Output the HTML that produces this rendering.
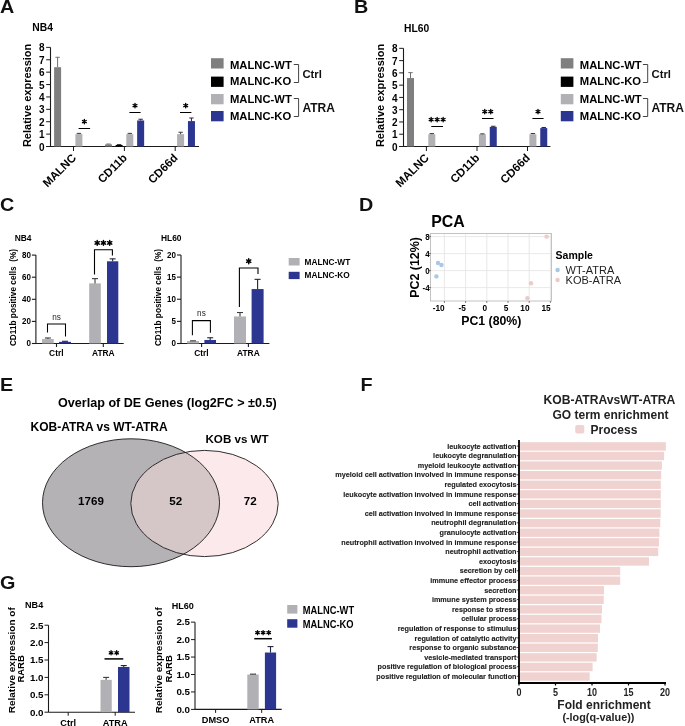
<!DOCTYPE html>
<html><head><meta charset="utf-8"><style>
html,body{margin:0;padding:0;background:#fff;width:685px;height:726px;overflow:hidden}
svg{display:block;font-family:"Liberation Sans",sans-serif;will-change:transform}
</style></head><body>
<svg width="685" height="726" viewBox="0 0 685 726">
<text transform="translate(0.00,13.10) scale(1.13,1)" font-size="17.5" text-anchor="start" font-weight="bold" fill="#111" >A</text>
<text transform="translate(354.00,13.10) scale(1.13,1)" font-size="17.5" text-anchor="start" font-weight="bold" fill="#111" >B</text>
<text transform="translate(0.00,211.00) scale(1.13,1)" font-size="17.5" text-anchor="start" font-weight="bold" fill="#111" >C</text>
<text transform="translate(359.00,211.10) scale(1.13,1)" font-size="17.5" text-anchor="start" font-weight="bold" fill="#111" >D</text>
<text transform="translate(0.00,390.80) scale(1.13,1)" font-size="17.5" text-anchor="start" font-weight="bold" fill="#111" >E</text>
<text transform="translate(360.60,390.80) scale(1.13,1)" font-size="17.5" text-anchor="start" font-weight="bold" fill="#111" >F</text>
<text transform="translate(0.10,589.10) scale(1.13,1)" font-size="17.5" text-anchor="start" font-weight="bold" fill="#111" >G</text>
<text transform="translate(32.30,30.80)" font-size="10.3" text-anchor="start" font-weight="bold" fill="#000" >NB4</text>
<line x1="50.50" y1="47.38" x2="50.50" y2="146.50" stroke="#1a1a1a" stroke-width="1.1" />
<line x1="46.20" y1="146.50" x2="50.50" y2="146.50" stroke="#1a1a1a" stroke-width="1.0" />
<text transform="translate(44.60,150.60)" font-size="10" text-anchor="end" font-weight="bold" fill="#000" >0</text>
<line x1="46.20" y1="134.11" x2="50.50" y2="134.11" stroke="#1a1a1a" stroke-width="1.0" />
<text transform="translate(44.60,138.21)" font-size="10" text-anchor="end" font-weight="bold" fill="#000" >1</text>
<line x1="46.20" y1="121.72" x2="50.50" y2="121.72" stroke="#1a1a1a" stroke-width="1.0" />
<text transform="translate(44.60,125.82)" font-size="10" text-anchor="end" font-weight="bold" fill="#000" >2</text>
<line x1="46.20" y1="109.33" x2="50.50" y2="109.33" stroke="#1a1a1a" stroke-width="1.0" />
<text transform="translate(44.60,113.43)" font-size="10" text-anchor="end" font-weight="bold" fill="#000" >3</text>
<line x1="46.20" y1="96.94" x2="50.50" y2="96.94" stroke="#1a1a1a" stroke-width="1.0" />
<text transform="translate(44.60,101.04)" font-size="10" text-anchor="end" font-weight="bold" fill="#000" >4</text>
<line x1="46.20" y1="84.55" x2="50.50" y2="84.55" stroke="#1a1a1a" stroke-width="1.0" />
<text transform="translate(44.60,88.65)" font-size="10" text-anchor="end" font-weight="bold" fill="#000" >5</text>
<line x1="46.20" y1="72.16" x2="50.50" y2="72.16" stroke="#1a1a1a" stroke-width="1.0" />
<text transform="translate(44.60,76.26)" font-size="10" text-anchor="end" font-weight="bold" fill="#000" >6</text>
<line x1="46.20" y1="59.77" x2="50.50" y2="59.77" stroke="#1a1a1a" stroke-width="1.0" />
<text transform="translate(44.60,63.87)" font-size="10" text-anchor="end" font-weight="bold" fill="#000" >7</text>
<line x1="46.20" y1="47.38" x2="50.50" y2="47.38" stroke="#1a1a1a" stroke-width="1.0" />
<text transform="translate(44.60,51.48)" font-size="10" text-anchor="end" font-weight="bold" fill="#000" >8</text>
<line x1="46.20" y1="146.50" x2="199.00" y2="146.50" stroke="#1a1a1a" stroke-width="1.1" />
<line x1="73.50" y1="146.50" x2="73.50" y2="151.00" stroke="#1a1a1a" stroke-width="1.0" />
<rect x="54.10" y="67.20" width="7.00" height="79.30" fill="#7f7f7f" />
<line x1="57.60" y1="57.29" x2="57.60" y2="67.20" stroke="#707070" stroke-width="1" />
<line x1="55.40" y1="57.29" x2="59.80" y2="57.29" stroke="#707070" stroke-width="1" />
<rect x="75.40" y="134.11" width="7.00" height="12.39" fill="#b1b1b5" />
<line x1="78.90" y1="133.37" x2="78.90" y2="134.11" stroke="#3c3c3c" stroke-width="1" />
<line x1="76.70" y1="133.37" x2="81.10" y2="133.37" stroke="#3c3c3c" stroke-width="1" />
<line x1="124.40" y1="146.50" x2="124.40" y2="151.00" stroke="#1a1a1a" stroke-width="1.0" />
<rect x="105.00" y="144.39" width="7.00" height="2.11" fill="#7f7f7f" />
<line x1="108.50" y1="144.02" x2="108.50" y2="144.39" stroke="#707070" stroke-width="1" />
<line x1="106.30" y1="144.02" x2="110.70" y2="144.02" stroke="#707070" stroke-width="1" />
<rect x="115.60" y="145.01" width="7.00" height="1.49" fill="#000" />
<line x1="119.10" y1="144.77" x2="119.10" y2="145.01" stroke="#000" stroke-width="1" />
<line x1="116.90" y1="144.77" x2="121.30" y2="144.77" stroke="#000" stroke-width="1" />
<rect x="126.30" y="134.11" width="7.00" height="12.39" fill="#b1b1b5" />
<line x1="129.80" y1="133.37" x2="129.80" y2="134.11" stroke="#3c3c3c" stroke-width="1" />
<line x1="127.60" y1="133.37" x2="132.00" y2="133.37" stroke="#3c3c3c" stroke-width="1" />
<rect x="137.15" y="120.48" width="7.00" height="26.02" fill="#2c3590" />
<line x1="140.65" y1="119.24" x2="140.65" y2="120.48" stroke="#22243a" stroke-width="1" />
<line x1="138.45" y1="119.24" x2="142.85" y2="119.24" stroke="#22243a" stroke-width="1" />
<line x1="175.20" y1="146.50" x2="175.20" y2="151.00" stroke="#1a1a1a" stroke-width="1.0" />
<rect x="177.10" y="134.11" width="7.00" height="12.39" fill="#b1b1b5" />
<line x1="180.60" y1="132.25" x2="180.60" y2="134.11" stroke="#3c3c3c" stroke-width="1" />
<line x1="178.40" y1="132.25" x2="182.80" y2="132.25" stroke="#3c3c3c" stroke-width="1" />
<rect x="187.95" y="121.10" width="7.00" height="25.40" fill="#2c3590" />
<line x1="191.45" y1="118.00" x2="191.45" y2="121.10" stroke="#22243a" stroke-width="1" />
<line x1="189.25" y1="118.00" x2="193.65" y2="118.00" stroke="#22243a" stroke-width="1" />
<text transform="translate(76.80,158.50) rotate(-45)" font-size="11.5" text-anchor="end" font-weight="bold" fill="#000" >MALNC</text>
<text transform="translate(127.70,158.50) rotate(-45)" font-size="11.5" text-anchor="end" font-weight="bold" fill="#000" >CD11b</text>
<text transform="translate(178.50,158.50) rotate(-45)" font-size="11.5" text-anchor="end" font-weight="bold" fill="#000" >CD66d</text>
<line x1="78.60" y1="128.50" x2="90.10" y2="128.50" stroke="#000" stroke-width="1.0" />
<path d="M84.35,119.40L84.35,123.80M82.44,120.50L86.26,122.70M86.26,120.50L82.44,122.70" stroke="#000" stroke-width="1.35" stroke-linecap="round" fill="none"/>
<line x1="129.40" y1="112.50" x2="140.60" y2="112.50" stroke="#000" stroke-width="1.0" />
<path d="M135.00,103.40L135.00,107.80M133.09,104.50L136.91,106.70M136.91,104.50L133.09,106.70" stroke="#000" stroke-width="1.35" stroke-linecap="round" fill="none"/>
<line x1="180.00" y1="112.50" x2="191.40" y2="112.50" stroke="#000" stroke-width="1.0" />
<path d="M185.70,103.40L185.70,107.80M183.79,104.50L187.61,106.70M187.61,104.50L183.79,106.70" stroke="#000" stroke-width="1.35" stroke-linecap="round" fill="none"/>
<rect x="211.00" y="58.20" width="12.60" height="10.30" fill="#7f7f7f" />
<text transform="translate(230.00,68.90)" font-size="11.25" text-anchor="start" font-weight="bold" fill="#000" >MALNC-WT</text>
<rect x="211.00" y="76.60" width="12.60" height="10.30" fill="#000" />
<text transform="translate(230.00,85.40)" font-size="11.25" text-anchor="start" font-weight="bold" fill="#000" >MALNC-KO</text>
<rect x="211.00" y="94.00" width="12.60" height="10.30" fill="#b1b1b5" />
<text transform="translate(230.00,103.20)" font-size="11.25" text-anchor="start" font-weight="bold" fill="#000" >MALNC-WT</text>
<rect x="211.00" y="111.00" width="12.60" height="10.30" fill="#2c3590" />
<text transform="translate(230.00,119.80)" font-size="11.25" text-anchor="start" font-weight="bold" fill="#000" >MALNC-KO</text>
<path d="M293.8,64.5 H298.6 V82.5 H293.8" stroke="#444" stroke-width="1" fill="none" />
<path d="M293.8,98.5 H298.6 V116.5 H293.8" stroke="#444" stroke-width="1" fill="none" />
<text transform="translate(302.40,78.20)" font-size="11.3" text-anchor="start" font-weight="bold" fill="#111" >Ctrl</text>
<text transform="translate(302.40,112.00)" font-size="12.0" text-anchor="start" font-weight="bold" fill="#111" >ATRA</text>
<text transform="translate(31.00,95.40) rotate(-90)" font-size="11" text-anchor="middle" font-weight="bold" fill="#000" >Relative expression</text>
<text transform="translate(404.00,32.00)" font-size="10.3" text-anchor="start" font-weight="bold" fill="#000" >HL60</text>
<line x1="403.50" y1="48.34" x2="403.50" y2="146.50" stroke="#1a1a1a" stroke-width="1.1" />
<line x1="399.20" y1="146.50" x2="403.50" y2="146.50" stroke="#1a1a1a" stroke-width="1.0" />
<text transform="translate(397.60,150.60)" font-size="10" text-anchor="end" font-weight="bold" fill="#000" >0</text>
<line x1="399.20" y1="134.23" x2="403.50" y2="134.23" stroke="#1a1a1a" stroke-width="1.0" />
<text transform="translate(397.60,138.33)" font-size="10" text-anchor="end" font-weight="bold" fill="#000" >1</text>
<line x1="399.20" y1="121.96" x2="403.50" y2="121.96" stroke="#1a1a1a" stroke-width="1.0" />
<text transform="translate(397.60,126.06)" font-size="10" text-anchor="end" font-weight="bold" fill="#000" >2</text>
<line x1="399.20" y1="109.69" x2="403.50" y2="109.69" stroke="#1a1a1a" stroke-width="1.0" />
<text transform="translate(397.60,113.79)" font-size="10" text-anchor="end" font-weight="bold" fill="#000" >3</text>
<line x1="399.20" y1="97.42" x2="403.50" y2="97.42" stroke="#1a1a1a" stroke-width="1.0" />
<text transform="translate(397.60,101.52)" font-size="10" text-anchor="end" font-weight="bold" fill="#000" >4</text>
<line x1="399.20" y1="85.15" x2="403.50" y2="85.15" stroke="#1a1a1a" stroke-width="1.0" />
<text transform="translate(397.60,89.25)" font-size="10" text-anchor="end" font-weight="bold" fill="#000" >5</text>
<line x1="399.20" y1="72.88" x2="403.50" y2="72.88" stroke="#1a1a1a" stroke-width="1.0" />
<text transform="translate(397.60,76.98)" font-size="10" text-anchor="end" font-weight="bold" fill="#000" >6</text>
<line x1="399.20" y1="60.61" x2="403.50" y2="60.61" stroke="#1a1a1a" stroke-width="1.0" />
<text transform="translate(397.60,64.71)" font-size="10" text-anchor="end" font-weight="bold" fill="#000" >7</text>
<line x1="399.20" y1="48.34" x2="403.50" y2="48.34" stroke="#1a1a1a" stroke-width="1.0" />
<text transform="translate(397.60,52.44)" font-size="10" text-anchor="end" font-weight="bold" fill="#000" >8</text>
<line x1="399.20" y1="146.50" x2="550.40" y2="146.50" stroke="#1a1a1a" stroke-width="1.1" />
<line x1="426.40" y1="146.50" x2="426.40" y2="151.00" stroke="#1a1a1a" stroke-width="1.0" />
<rect x="407.00" y="78.03" width="7.00" height="68.47" fill="#7f7f7f" />
<line x1="410.50" y1="72.63" x2="410.50" y2="78.03" stroke="#707070" stroke-width="1" />
<line x1="408.30" y1="72.63" x2="412.70" y2="72.63" stroke="#707070" stroke-width="1" />
<rect x="428.30" y="134.23" width="7.00" height="12.27" fill="#b1b1b5" />
<line x1="431.80" y1="133.62" x2="431.80" y2="134.23" stroke="#3c3c3c" stroke-width="1" />
<line x1="429.60" y1="133.62" x2="434.00" y2="133.62" stroke="#3c3c3c" stroke-width="1" />
<line x1="477.00" y1="146.50" x2="477.00" y2="151.00" stroke="#1a1a1a" stroke-width="1.0" />
<rect x="478.90" y="134.23" width="7.00" height="12.27" fill="#b1b1b5" />
<line x1="482.40" y1="133.86" x2="482.40" y2="134.23" stroke="#3c3c3c" stroke-width="1" />
<line x1="480.20" y1="133.86" x2="484.60" y2="133.86" stroke="#3c3c3c" stroke-width="1" />
<rect x="489.75" y="126.87" width="7.00" height="19.63" fill="#2c3590" />
<line x1="493.25" y1="126.25" x2="493.25" y2="126.87" stroke="#22243a" stroke-width="1" />
<line x1="491.05" y1="126.25" x2="495.45" y2="126.25" stroke="#22243a" stroke-width="1" />
<line x1="527.50" y1="146.50" x2="527.50" y2="151.00" stroke="#1a1a1a" stroke-width="1.0" />
<rect x="529.40" y="134.23" width="7.00" height="12.27" fill="#b1b1b5" />
<line x1="532.90" y1="133.49" x2="532.90" y2="134.23" stroke="#3c3c3c" stroke-width="1" />
<line x1="530.70" y1="133.49" x2="535.10" y2="133.49" stroke="#3c3c3c" stroke-width="1" />
<rect x="540.25" y="128.09" width="7.00" height="18.41" fill="#2c3590" />
<line x1="543.75" y1="127.48" x2="543.75" y2="128.09" stroke="#22243a" stroke-width="1" />
<line x1="541.55" y1="127.48" x2="545.95" y2="127.48" stroke="#22243a" stroke-width="1" />
<text transform="translate(429.70,158.50) rotate(-45)" font-size="11.5" text-anchor="end" font-weight="bold" fill="#000" >MALNC</text>
<text transform="translate(480.30,158.50) rotate(-45)" font-size="11.5" text-anchor="end" font-weight="bold" fill="#000" >CD11b</text>
<text transform="translate(530.80,158.50) rotate(-45)" font-size="11.5" text-anchor="end" font-weight="bold" fill="#000" >CD66d</text>
<line x1="431.30" y1="126.50" x2="443.00" y2="126.50" stroke="#000" stroke-width="1.0" />
<path d="M431.15,117.40L431.15,121.80M429.24,118.50L433.06,120.70M433.06,118.50L429.24,120.70" stroke="#000" stroke-width="1.35" stroke-linecap="round" fill="none"/>
<path d="M437.15,117.40L437.15,121.80M435.24,118.50L439.06,120.70M439.06,118.50L435.24,120.70" stroke="#000" stroke-width="1.35" stroke-linecap="round" fill="none"/>
<path d="M443.15,117.40L443.15,121.80M441.24,118.50L445.06,120.70M445.06,118.50L441.24,120.70" stroke="#000" stroke-width="1.35" stroke-linecap="round" fill="none"/>
<line x1="482.00" y1="118.50" x2="493.50" y2="118.50" stroke="#000" stroke-width="1.0" />
<path d="M484.75,109.40L484.75,113.80M482.84,110.50L486.66,112.70M486.66,110.50L482.84,112.70" stroke="#000" stroke-width="1.35" stroke-linecap="round" fill="none"/>
<path d="M490.75,109.40L490.75,113.80M488.84,110.50L492.66,112.70M492.66,110.50L488.84,112.70" stroke="#000" stroke-width="1.35" stroke-linecap="round" fill="none"/>
<line x1="532.40" y1="118.50" x2="543.60" y2="118.50" stroke="#000" stroke-width="1.0" />
<path d="M538.00,109.40L538.00,113.80M536.09,110.50L539.91,112.70M539.91,110.50L536.09,112.70" stroke="#000" stroke-width="1.35" stroke-linecap="round" fill="none"/>
<rect x="560.80" y="58.20" width="12.60" height="10.30" fill="#7f7f7f" />
<text transform="translate(579.80,68.90)" font-size="11.25" text-anchor="start" font-weight="bold" fill="#000" >MALNC-WT</text>
<rect x="560.80" y="76.60" width="12.60" height="10.30" fill="#000" />
<text transform="translate(579.80,85.40)" font-size="11.25" text-anchor="start" font-weight="bold" fill="#000" >MALNC-KO</text>
<rect x="560.80" y="94.00" width="12.60" height="10.30" fill="#b1b1b5" />
<text transform="translate(579.80,103.20)" font-size="11.25" text-anchor="start" font-weight="bold" fill="#000" >MALNC-WT</text>
<rect x="560.80" y="111.00" width="12.60" height="10.30" fill="#2c3590" />
<text transform="translate(579.80,119.80)" font-size="11.25" text-anchor="start" font-weight="bold" fill="#000" >MALNC-KO</text>
<path d="M642.9,64.5 H647.6999999999999 V82.5 H642.9" stroke="#444" stroke-width="1" fill="none" />
<path d="M642.9,98.5 H647.6999999999999 V116.5 H642.9" stroke="#444" stroke-width="1" fill="none" />
<text transform="translate(651.50,78.20)" font-size="11.3" text-anchor="start" font-weight="bold" fill="#111" >Ctrl</text>
<text transform="translate(651.50,112.00)" font-size="12.0" text-anchor="start" font-weight="bold" fill="#111" >ATRA</text>
<text transform="translate(384.00,95.40) rotate(-90)" font-size="11" text-anchor="middle" font-weight="bold" fill="#000" >Relative expression</text>
<text transform="translate(14.70,241.00)" font-size="8.4" text-anchor="start" font-weight="bold" fill="#000" >NB4</text>
<line x1="35.90" y1="255.10" x2="35.90" y2="344.00" stroke="#1a1a1a" stroke-width="1.1" />
<line x1="31.90" y1="343.50" x2="35.90" y2="343.50" stroke="#1a1a1a" stroke-width="1.1" />
<text transform="translate(30.90,346.30) scale(1,1.18)" font-size="8" text-anchor="end" font-weight="bold" fill="#000" >0</text>
<line x1="31.90" y1="321.40" x2="35.90" y2="321.40" stroke="#1a1a1a" stroke-width="1.1" />
<text transform="translate(30.90,324.20) scale(1,1.18)" font-size="8" text-anchor="end" font-weight="bold" fill="#000" >20</text>
<line x1="31.90" y1="299.30" x2="35.90" y2="299.30" stroke="#1a1a1a" stroke-width="1.1" />
<text transform="translate(30.90,302.10) scale(1,1.18)" font-size="8" text-anchor="end" font-weight="bold" fill="#000" >40</text>
<line x1="31.90" y1="277.20" x2="35.90" y2="277.20" stroke="#1a1a1a" stroke-width="1.1" />
<text transform="translate(30.90,280.00) scale(1,1.18)" font-size="8" text-anchor="end" font-weight="bold" fill="#000" >60</text>
<line x1="31.90" y1="255.10" x2="35.90" y2="255.10" stroke="#1a1a1a" stroke-width="1.1" />
<text transform="translate(30.90,257.90) scale(1,1.18)" font-size="8" text-anchor="end" font-weight="bold" fill="#000" >80</text>
<line x1="35.90" y1="343.50" x2="123.70" y2="343.50" stroke="#1a1a1a" stroke-width="1.1" />
<line x1="56.50" y1="343.50" x2="56.50" y2="347.00" stroke="#1a1a1a" stroke-width="1.1" />
<line x1="103.30" y1="343.50" x2="103.30" y2="347.00" stroke="#1a1a1a" stroke-width="1.1" />
<rect x="42.00" y="339.08" width="11.75" height="4.42" fill="#b1b1b5" />
<line x1="47.88" y1="337.98" x2="47.88" y2="339.08" stroke="#3c3c3c" stroke-width="1.1" />
<line x1="44.88" y1="337.98" x2="50.88" y2="337.98" stroke="#3c3c3c" stroke-width="1.1" />
<rect x="59.00" y="341.84" width="12.00" height="1.66" fill="#2c3590" />
<line x1="65.00" y1="341.29" x2="65.00" y2="341.84" stroke="#22243a" stroke-width="1.1" />
<line x1="62.00" y1="341.29" x2="68.00" y2="341.29" stroke="#22243a" stroke-width="1.1" />
<rect x="89.20" y="283.39" width="11.60" height="60.11" fill="#b1b1b5" />
<line x1="95.00" y1="278.64" x2="95.00" y2="283.39" stroke="#3c3c3c" stroke-width="1.1" />
<line x1="92.00" y1="278.64" x2="98.00" y2="278.64" stroke="#3c3c3c" stroke-width="1.1" />
<rect x="107.00" y="261.29" width="11.30" height="82.21" fill="#2c3590" />
<line x1="112.65" y1="258.86" x2="112.65" y2="261.29" stroke="#22243a" stroke-width="1.1" />
<line x1="109.65" y1="258.86" x2="115.65" y2="258.86" stroke="#22243a" stroke-width="1.1" />
<path d="M47.5,332.5 V324 H65.5 V336.4" stroke="#000" stroke-width="1.05" fill="none" stroke-linejoin="miter"/>
<text transform="translate(56.50,319.80)" font-size="8.2" text-anchor="middle" font-weight="normal" fill="#222" >ns</text>
<path d="M94.5,274.4 V249.7 H112.4 V255.6" stroke="#000" stroke-width="1.1" fill="none" />
<path d="M97.20,240.45L97.20,245.35M95.08,241.67L99.32,244.12M99.32,241.67L95.08,244.12" stroke="#000" stroke-width="1.45" stroke-linecap="round" fill="none"/>
<path d="M103.45,240.45L103.45,245.35M101.33,241.67L105.57,244.12M105.57,241.67L101.33,244.12" stroke="#000" stroke-width="1.45" stroke-linecap="round" fill="none"/>
<path d="M109.70,240.45L109.70,245.35M107.58,241.67L111.82,244.12M111.82,241.67L107.58,244.12" stroke="#000" stroke-width="1.45" stroke-linecap="round" fill="none"/>
<text transform="translate(56.30,356.30) scale(1,1.08)" font-size="8.4" text-anchor="middle" font-weight="bold" fill="#000" >Ctrl</text>
<text transform="translate(103.30,356.30) scale(1,1.08)" font-size="8.4" text-anchor="middle" font-weight="bold" fill="#000" >ATRA</text>
<text transform="translate(15.90,297.50) rotate(-90)" font-size="8.25" text-anchor="middle" font-weight="bold" fill="#000" >CD11b positive cells  (%)</text>
<text transform="translate(161.00,241.00)" font-size="8.4" text-anchor="start" font-weight="bold" fill="#000" >HL60</text>
<line x1="181.00" y1="255.00" x2="181.00" y2="344.00" stroke="#1a1a1a" stroke-width="1.1" />
<line x1="177.00" y1="343.50" x2="181.00" y2="343.50" stroke="#1a1a1a" stroke-width="1.1" />
<text transform="translate(176.00,346.30) scale(1,1.18)" font-size="8" text-anchor="end" font-weight="bold" fill="#000" >0</text>
<line x1="177.00" y1="321.38" x2="181.00" y2="321.38" stroke="#1a1a1a" stroke-width="1.1" />
<text transform="translate(176.00,324.18) scale(1,1.18)" font-size="8" text-anchor="end" font-weight="bold" fill="#000" >5</text>
<line x1="177.00" y1="299.25" x2="181.00" y2="299.25" stroke="#1a1a1a" stroke-width="1.1" />
<text transform="translate(176.00,302.05) scale(1,1.18)" font-size="8" text-anchor="end" font-weight="bold" fill="#000" >10</text>
<line x1="177.00" y1="277.12" x2="181.00" y2="277.12" stroke="#1a1a1a" stroke-width="1.1" />
<text transform="translate(176.00,279.93) scale(1,1.18)" font-size="8" text-anchor="end" font-weight="bold" fill="#000" >15</text>
<line x1="177.00" y1="255.00" x2="181.00" y2="255.00" stroke="#1a1a1a" stroke-width="1.1" />
<text transform="translate(176.00,257.80) scale(1,1.18)" font-size="8" text-anchor="end" font-weight="bold" fill="#000" >20</text>
<line x1="181.00" y1="343.50" x2="269.40" y2="343.50" stroke="#1a1a1a" stroke-width="1.1" />
<line x1="201.60" y1="343.50" x2="201.60" y2="347.00" stroke="#1a1a1a" stroke-width="1.1" />
<line x1="248.40" y1="343.50" x2="248.40" y2="347.00" stroke="#1a1a1a" stroke-width="1.1" />
<rect x="187.00" y="341.07" width="12.00" height="2.43" fill="#b1b1b5" />
<line x1="193.00" y1="340.85" x2="193.00" y2="341.07" stroke="#3c3c3c" stroke-width="1.1" />
<line x1="190.00" y1="340.85" x2="196.00" y2="340.85" stroke="#3c3c3c" stroke-width="1.1" />
<rect x="204.40" y="339.96" width="11.60" height="3.54" fill="#2c3590" />
<line x1="210.20" y1="337.75" x2="210.20" y2="339.96" stroke="#22243a" stroke-width="1.1" />
<line x1="207.20" y1="337.75" x2="213.20" y2="337.75" stroke="#22243a" stroke-width="1.1" />
<rect x="234.00" y="316.51" width="12.00" height="26.99" fill="#b1b1b5" />
<line x1="240.00" y1="312.52" x2="240.00" y2="316.51" stroke="#3c3c3c" stroke-width="1.1" />
<line x1="237.00" y1="312.52" x2="243.00" y2="312.52" stroke="#3c3c3c" stroke-width="1.1" />
<rect x="251.60" y="289.07" width="12.00" height="54.43" fill="#2c3590" />
<line x1="257.60" y1="279.34" x2="257.60" y2="289.07" stroke="#22243a" stroke-width="1.1" />
<line x1="254.60" y1="279.34" x2="260.60" y2="279.34" stroke="#22243a" stroke-width="1.1" />
<path d="M192.4,335.3 V320.6 H210.4 V332.8" stroke="#000" stroke-width="1.05" fill="none" stroke-linejoin="miter"/>
<text transform="translate(201.40,316.40)" font-size="8.2" text-anchor="middle" font-weight="normal" fill="#222" >ns</text>
<path d="M239.4,307 V268 H258 V274" stroke="#000" stroke-width="1.1" fill="none" />
<path d="M248.70,258.75L248.70,263.65M246.58,259.97L250.82,262.43M250.82,259.97L246.58,262.43" stroke="#000" stroke-width="1.45" stroke-linecap="round" fill="none"/>
<text transform="translate(201.40,356.30) scale(1,1.08)" font-size="8.4" text-anchor="middle" font-weight="bold" fill="#000" >Ctrl</text>
<text transform="translate(248.40,356.30) scale(1,1.08)" font-size="8.4" text-anchor="middle" font-weight="bold" fill="#000" >ATRA</text>
<text transform="translate(161.00,297.50) rotate(-90)" font-size="8.25" text-anchor="middle" font-weight="bold" fill="#000" >CD11b positive cells  (%)</text>
<rect x="288.70" y="258.00" width="10.90" height="7.50" fill="#b1b1b5" />
<rect x="288.70" y="271.80" width="10.90" height="7.30" fill="#2c3590" />
<text transform="translate(304.60,264.80)" font-size="8.3" text-anchor="start" font-weight="bold" fill="#000" >MALNC-WT</text>
<text transform="translate(304.60,278.20)" font-size="8.3" text-anchor="start" font-weight="bold" fill="#000" >MALNC-KO</text>
<text transform="translate(431.20,226.50) scale(1,1.05)" font-size="15.9" text-anchor="start" font-weight="bold" fill="#000" >PCA</text>
<rect x="430.50" y="233.50" width="121.00" height="67.50" fill="#fff" stroke="#c2c2c2" stroke-width="1"/>
<line x1="444.40" y1="234.00" x2="444.40" y2="300.50" stroke="#e2e2e2" stroke-width="0.8" />
<line x1="465.60" y1="234.00" x2="465.60" y2="300.50" stroke="#e2e2e2" stroke-width="0.8" />
<line x1="486.80" y1="234.00" x2="486.80" y2="300.50" stroke="#e2e2e2" stroke-width="0.8" />
<line x1="508.00" y1="234.00" x2="508.00" y2="300.50" stroke="#e2e2e2" stroke-width="0.8" />
<line x1="529.20" y1="234.00" x2="529.20" y2="300.50" stroke="#e2e2e2" stroke-width="0.8" />
<line x1="550.40" y1="234.00" x2="550.40" y2="300.50" stroke="#e2e2e2" stroke-width="0.8" />
<line x1="431.00" y1="236.60" x2="551.00" y2="236.60" stroke="#e2e2e2" stroke-width="0.8" />
<line x1="431.00" y1="253.60" x2="551.00" y2="253.60" stroke="#e2e2e2" stroke-width="0.8" />
<line x1="431.00" y1="270.60" x2="551.00" y2="270.60" stroke="#e2e2e2" stroke-width="0.8" />
<line x1="431.00" y1="287.60" x2="551.00" y2="287.60" stroke="#e2e2e2" stroke-width="0.8" />
<line x1="428.50" y1="236.60" x2="431.00" y2="236.60" stroke="#333" stroke-width="0.6" />
<text transform="translate(429.60,239.70) scale(1,1.18)" font-size="8" text-anchor="end" font-weight="bold" fill="#000" >8</text>
<line x1="428.50" y1="253.60" x2="431.00" y2="253.60" stroke="#333" stroke-width="0.6" />
<text transform="translate(429.60,256.70) scale(1,1.18)" font-size="8" text-anchor="end" font-weight="bold" fill="#000" >4</text>
<line x1="428.50" y1="270.60" x2="431.00" y2="270.60" stroke="#333" stroke-width="0.6" />
<text transform="translate(429.60,273.70) scale(1,1.18)" font-size="8" text-anchor="end" font-weight="bold" fill="#000" >0</text>
<line x1="428.50" y1="287.60" x2="431.00" y2="287.60" stroke="#333" stroke-width="0.6" />
<text transform="translate(429.60,290.70) scale(1,1.18)" font-size="8" text-anchor="end" font-weight="bold" fill="#000" >-4</text>
<line x1="444.40" y1="301.00" x2="444.40" y2="303.00" stroke="#333" stroke-width="0.6" />
<text transform="translate(444.70,310.60) scale(1,1.18)" font-size="8.3" text-anchor="end" font-weight="bold" fill="#000" >-10</text>
<line x1="465.60" y1="301.00" x2="465.60" y2="303.00" stroke="#333" stroke-width="0.6" />
<text transform="translate(465.90,310.60) scale(1,1.18)" font-size="8.3" text-anchor="end" font-weight="bold" fill="#000" >-5</text>
<line x1="486.80" y1="301.00" x2="486.80" y2="303.00" stroke="#333" stroke-width="0.6" />
<text transform="translate(487.10,310.60) scale(1,1.18)" font-size="8.3" text-anchor="end" font-weight="bold" fill="#000" >0</text>
<line x1="508.00" y1="301.00" x2="508.00" y2="303.00" stroke="#333" stroke-width="0.6" />
<text transform="translate(508.30,310.60) scale(1,1.18)" font-size="8.3" text-anchor="end" font-weight="bold" fill="#000" >5</text>
<line x1="529.20" y1="301.00" x2="529.20" y2="303.00" stroke="#333" stroke-width="0.6" />
<text transform="translate(529.50,310.60) scale(1,1.18)" font-size="8.3" text-anchor="end" font-weight="bold" fill="#000" >10</text>
<line x1="550.40" y1="301.00" x2="550.40" y2="303.00" stroke="#333" stroke-width="0.6" />
<text transform="translate(550.70,310.60) scale(1,1.18)" font-size="8.3" text-anchor="end" font-weight="bold" fill="#000" >15</text>
<circle cx="438.00" cy="263.00" r="2.2" fill="#a9c8e4" />
<circle cx="441.40" cy="265.00" r="2.2" fill="#a9c8e4" />
<circle cx="436.40" cy="276.40" r="2.2" fill="#a9c8e4" />
<circle cx="546.60" cy="236.60" r="2.2" fill="#eccbc6" />
<circle cx="531.00" cy="283.20" r="2.2" fill="#eccbc6" />
<circle cx="527.40" cy="298.20" r="2.2" fill="#eccbc6" />
<text transform="translate(491.30,325.00)" font-size="12.3" text-anchor="middle" font-weight="bold" fill="#000" >PC1 (80%)</text>
<text transform="translate(419.30,267.50) rotate(-90)" font-size="12.4" text-anchor="middle" font-weight="bold" fill="#000" >PC2 (12%)</text>
<text transform="translate(555.60,259.00)" font-size="10.5" text-anchor="start" font-weight="bold" fill="#000" >Sample</text>
<circle cx="557.60" cy="270.00" r="2.2" fill="#a9c8e4" />
<circle cx="557.60" cy="280.00" r="2.2" fill="#eccbc6" />
<text transform="translate(565.60,273.60)" font-size="11" text-anchor="start" font-weight="normal" fill="#222" >WT-ATRA</text>
<text transform="translate(565.60,284.00)" font-size="11" text-anchor="start" font-weight="normal" fill="#222" >KOB-ATRA</text>
<text transform="translate(167.30,406.80)" font-size="12.6" text-anchor="middle" font-weight="bold" fill="#000" >Overlap of DE Genes (log2FC &gt; ±0.5)</text>
<text transform="translate(30.50,431.25)" font-size="12" text-anchor="start" font-weight="bold" fill="#000" >KOB-ATRA vs WT-ATRA</text>
<text transform="translate(205.50,442.70)" font-size="11.6" text-anchor="start" font-weight="bold" fill="#000" >KOB vs WT</text>
<defs><clipPath id="c1"><ellipse cx="131" cy="502.75" rx="88.5" ry="63.95"/></clipPath></defs>
<ellipse cx="131.00" cy="502.75" rx="88.5" ry="63.95" fill="#b4b2b4" stroke="none" stroke-width="0.8" />
<ellipse cx="204.50" cy="503.50" rx="73.7" ry="53.1" fill="#fbe9eb" stroke="none" stroke-width="0.8" />
<ellipse cx="204.50" cy="503.50" rx="73.7" ry="53.1" fill="#d5c6c8" stroke="none" stroke-width="0.8" clip-path="url(#c1)"/>
<ellipse cx="131.00" cy="502.75" rx="88.5" ry="63.95" fill="none" stroke="#1a1a1a" stroke-width="0.9" />
<ellipse cx="204.50" cy="503.50" rx="73.7" ry="53.1" fill="none" stroke="#1a1a1a" stroke-width="0.9" />
<text transform="translate(91.00,505.00)" font-size="11.6" text-anchor="middle" font-weight="bold" fill="#000" >1769</text>
<text transform="translate(175.70,505.00)" font-size="11.6" text-anchor="middle" font-weight="bold" fill="#000" >52</text>
<text transform="translate(250.20,505.00)" font-size="11.6" text-anchor="middle" font-weight="bold" fill="#000" >72</text>
<text transform="translate(609.40,404.00) scale(1,1.04)" font-size="12.15" text-anchor="middle" font-weight="bold" fill="#222" >KOB-ATRAvsWT-ATRA</text>
<text transform="translate(610.50,419.00)" font-size="12" text-anchor="middle" font-weight="bold" fill="#222" >GO term enrichment</text>
<rect x="575.20" y="425.00" width="9.10" height="8.40" fill="#f0d2d2" rx="2"/>
<text transform="translate(590.60,434.00)" font-size="12" text-anchor="start" font-weight="bold" fill="#222" >Process</text>
<rect x="520.00" y="442.20" width="145.90" height="8.40" fill="#f0d3d1" />
<line x1="516.80" y1="446.10" x2="519.00" y2="446.10" stroke="#222" stroke-width="0.8" />
<text transform="translate(516.50,448.70) scale(1,1.06)" font-size="7.26" text-anchor="end" font-weight="bold" fill="#222" stroke="#222" stroke-width="0.12">leukocyte activation</text>
<rect x="520.00" y="451.79" width="144.10" height="8.40" fill="#f0d3d1" />
<line x1="516.80" y1="455.69" x2="519.00" y2="455.69" stroke="#222" stroke-width="0.8" />
<text transform="translate(516.50,458.29) scale(1,1.06)" font-size="7.26" text-anchor="end" font-weight="bold" fill="#222" stroke="#222" stroke-width="0.12">leukocyte degranulation</text>
<rect x="520.00" y="461.38" width="141.90" height="8.40" fill="#f0d3d1" />
<line x1="516.80" y1="465.28" x2="519.00" y2="465.28" stroke="#222" stroke-width="0.8" />
<text transform="translate(516.50,467.88) scale(1,1.06)" font-size="7.26" text-anchor="end" font-weight="bold" fill="#222" stroke="#222" stroke-width="0.12">myeloid leukocyte activation</text>
<rect x="520.00" y="470.97" width="141.20" height="8.40" fill="#f0d3d1" />
<line x1="516.80" y1="474.87" x2="519.00" y2="474.87" stroke="#222" stroke-width="0.8" />
<text transform="translate(516.50,477.47) scale(1,1.06)" font-size="7.26" text-anchor="end" font-weight="bold" fill="#222" stroke="#222" stroke-width="0.12">myeloid cell activation involved in immune response</text>
<rect x="520.00" y="480.56" width="140.80" height="8.40" fill="#f0d3d1" />
<line x1="516.80" y1="484.46" x2="519.00" y2="484.46" stroke="#222" stroke-width="0.8" />
<text transform="translate(516.50,487.06) scale(1,1.06)" font-size="7.26" text-anchor="end" font-weight="bold" fill="#222" stroke="#222" stroke-width="0.12">regulated exocytosis</text>
<rect x="520.00" y="490.15" width="140.80" height="8.40" fill="#f0d3d1" />
<line x1="516.80" y1="494.05" x2="519.00" y2="494.05" stroke="#222" stroke-width="0.8" />
<text transform="translate(516.50,496.65) scale(1,1.06)" font-size="7.26" text-anchor="end" font-weight="bold" fill="#222" stroke="#222" stroke-width="0.12">leukocyte activation involved in immune response</text>
<rect x="520.00" y="499.74" width="140.80" height="8.40" fill="#f0d3d1" />
<line x1="516.80" y1="503.64" x2="519.00" y2="503.64" stroke="#222" stroke-width="0.8" />
<text transform="translate(516.50,506.24) scale(1,1.06)" font-size="7.26" text-anchor="end" font-weight="bold" fill="#222" stroke="#222" stroke-width="0.12">cell activation</text>
<rect x="520.00" y="509.33" width="140.70" height="8.40" fill="#f0d3d1" />
<line x1="516.80" y1="513.23" x2="519.00" y2="513.23" stroke="#222" stroke-width="0.8" />
<text transform="translate(516.50,515.83) scale(1,1.06)" font-size="7.26" text-anchor="end" font-weight="bold" fill="#222" stroke="#222" stroke-width="0.12">cell activation involved in immune response</text>
<rect x="520.00" y="518.92" width="140.30" height="8.40" fill="#f0d3d1" />
<line x1="516.80" y1="522.82" x2="519.00" y2="522.82" stroke="#222" stroke-width="0.8" />
<text transform="translate(516.50,525.42) scale(1,1.06)" font-size="7.26" text-anchor="end" font-weight="bold" fill="#222" stroke="#222" stroke-width="0.12">neutrophil degranulation</text>
<rect x="520.00" y="528.51" width="139.40" height="8.40" fill="#f0d3d1" />
<line x1="516.80" y1="532.41" x2="519.00" y2="532.41" stroke="#222" stroke-width="0.8" />
<text transform="translate(516.50,535.01) scale(1,1.06)" font-size="7.26" text-anchor="end" font-weight="bold" fill="#222" stroke="#222" stroke-width="0.12">granulocyte activation</text>
<rect x="520.00" y="538.10" width="139.00" height="8.40" fill="#f0d3d1" />
<line x1="516.80" y1="542.00" x2="519.00" y2="542.00" stroke="#222" stroke-width="0.8" />
<text transform="translate(516.50,544.60) scale(1,1.06)" font-size="7.26" text-anchor="end" font-weight="bold" fill="#222" stroke="#222" stroke-width="0.12">neutrophil activation involved in immune response</text>
<rect x="520.00" y="547.69" width="138.20" height="8.40" fill="#f0d3d1" />
<line x1="516.80" y1="551.59" x2="519.00" y2="551.59" stroke="#222" stroke-width="0.8" />
<text transform="translate(516.50,554.19) scale(1,1.06)" font-size="7.26" text-anchor="end" font-weight="bold" fill="#222" stroke="#222" stroke-width="0.12">neutrophil activation</text>
<rect x="520.00" y="557.28" width="129.00" height="8.40" fill="#f0d3d1" />
<line x1="516.80" y1="561.18" x2="519.00" y2="561.18" stroke="#222" stroke-width="0.8" />
<text transform="translate(516.50,563.78) scale(1,1.06)" font-size="7.26" text-anchor="end" font-weight="bold" fill="#222" stroke="#222" stroke-width="0.12">exocytosis</text>
<rect x="520.00" y="566.87" width="100.20" height="8.40" fill="#f0d3d1" />
<line x1="516.80" y1="570.77" x2="519.00" y2="570.77" stroke="#222" stroke-width="0.8" />
<text transform="translate(516.50,573.37) scale(1,1.06)" font-size="7.26" text-anchor="end" font-weight="bold" fill="#222" stroke="#222" stroke-width="0.12">secretion by cell</text>
<rect x="520.00" y="576.46" width="100.20" height="8.40" fill="#f0d3d1" />
<line x1="516.80" y1="580.36" x2="519.00" y2="580.36" stroke="#222" stroke-width="0.8" />
<text transform="translate(516.50,582.96) scale(1,1.06)" font-size="7.26" text-anchor="end" font-weight="bold" fill="#222" stroke="#222" stroke-width="0.12">immune effector process</text>
<rect x="520.00" y="586.05" width="84.00" height="8.40" fill="#f0d3d1" />
<line x1="516.80" y1="589.95" x2="519.00" y2="589.95" stroke="#222" stroke-width="0.8" />
<text transform="translate(516.50,592.55) scale(1,1.06)" font-size="7.26" text-anchor="end" font-weight="bold" fill="#222" stroke="#222" stroke-width="0.12">secretion</text>
<rect x="520.00" y="595.64" width="83.70" height="8.40" fill="#f0d3d1" />
<line x1="516.80" y1="599.54" x2="519.00" y2="599.54" stroke="#222" stroke-width="0.8" />
<text transform="translate(516.50,602.14) scale(1,1.06)" font-size="7.26" text-anchor="end" font-weight="bold" fill="#222" stroke="#222" stroke-width="0.12">immune system process</text>
<rect x="520.00" y="605.23" width="82.00" height="8.40" fill="#f0d3d1" />
<line x1="516.80" y1="609.13" x2="519.00" y2="609.13" stroke="#222" stroke-width="0.8" />
<text transform="translate(516.50,611.73) scale(1,1.06)" font-size="7.26" text-anchor="end" font-weight="bold" fill="#222" stroke="#222" stroke-width="0.12">response to stress</text>
<rect x="520.00" y="614.82" width="81.50" height="8.40" fill="#f0d3d1" />
<line x1="516.80" y1="618.72" x2="519.00" y2="618.72" stroke="#222" stroke-width="0.8" />
<text transform="translate(516.50,621.32) scale(1,1.06)" font-size="7.26" text-anchor="end" font-weight="bold" fill="#222" stroke="#222" stroke-width="0.12">cellular process</text>
<rect x="520.00" y="624.41" width="80.00" height="8.40" fill="#f0d3d1" />
<line x1="516.80" y1="628.31" x2="519.00" y2="628.31" stroke="#222" stroke-width="0.8" />
<text transform="translate(516.50,630.91) scale(1,1.06)" font-size="7.26" text-anchor="end" font-weight="bold" fill="#222" stroke="#222" stroke-width="0.12">regulation of response to stimulus</text>
<rect x="520.00" y="634.00" width="78.00" height="8.40" fill="#f0d3d1" />
<line x1="516.80" y1="637.90" x2="519.00" y2="637.90" stroke="#222" stroke-width="0.8" />
<text transform="translate(516.50,640.50) scale(1,1.06)" font-size="7.26" text-anchor="end" font-weight="bold" fill="#222" stroke="#222" stroke-width="0.12">regulation of catalytic activity</text>
<rect x="520.00" y="643.59" width="77.80" height="8.40" fill="#f0d3d1" />
<line x1="516.80" y1="647.49" x2="519.00" y2="647.49" stroke="#222" stroke-width="0.8" />
<text transform="translate(516.50,650.09) scale(1,1.06)" font-size="7.26" text-anchor="end" font-weight="bold" fill="#222" stroke="#222" stroke-width="0.12">response to organic substance</text>
<rect x="520.00" y="653.18" width="76.70" height="8.40" fill="#f0d3d1" />
<line x1="516.80" y1="657.08" x2="519.00" y2="657.08" stroke="#222" stroke-width="0.8" />
<text transform="translate(516.50,659.68) scale(1,1.06)" font-size="7.26" text-anchor="end" font-weight="bold" fill="#222" stroke="#222" stroke-width="0.12">vesicle-mediated transport</text>
<rect x="520.00" y="662.77" width="72.60" height="8.40" fill="#f0d3d1" />
<line x1="516.80" y1="666.67" x2="519.00" y2="666.67" stroke="#222" stroke-width="0.8" />
<text transform="translate(516.50,669.27) scale(1,1.06)" font-size="7.26" text-anchor="end" font-weight="bold" fill="#222" stroke="#222" stroke-width="0.12">positive regulation of biological process</text>
<rect x="520.00" y="672.36" width="69.70" height="8.40" fill="#f0d3d1" />
<line x1="516.80" y1="676.26" x2="519.00" y2="676.26" stroke="#222" stroke-width="0.8" />
<text transform="translate(516.50,678.86) scale(1,1.06)" font-size="7.26" text-anchor="end" font-weight="bold" fill="#222" stroke="#222" stroke-width="0.12">positive regulation of molecular function</text>
<line x1="519.00" y1="440.00" x2="519.00" y2="683.90" stroke="#000" stroke-width="1.8" />
<line x1="518.10" y1="683.00" x2="666.00" y2="683.00" stroke="#000" stroke-width="1.8" />
<line x1="519.00" y1="683.00" x2="519.00" y2="685.50" stroke="#000" stroke-width="1.2" />
<text transform="translate(519.00,695.60) scale(1,1.2)" font-size="9" text-anchor="middle" font-weight="bold" fill="#222" >0</text>
<line x1="555.50" y1="683.00" x2="555.50" y2="685.50" stroke="#000" stroke-width="1.2" />
<text transform="translate(555.50,695.60) scale(1,1.2)" font-size="9" text-anchor="middle" font-weight="bold" fill="#222" >5</text>
<line x1="592.00" y1="683.00" x2="592.00" y2="685.50" stroke="#000" stroke-width="1.2" />
<text transform="translate(592.00,695.60) scale(1,1.2)" font-size="9" text-anchor="middle" font-weight="bold" fill="#222" >10</text>
<line x1="628.50" y1="683.00" x2="628.50" y2="685.50" stroke="#000" stroke-width="1.2" />
<text transform="translate(628.50,695.60) scale(1,1.2)" font-size="9" text-anchor="middle" font-weight="bold" fill="#222" >15</text>
<line x1="665.00" y1="683.00" x2="665.00" y2="685.50" stroke="#000" stroke-width="1.2" />
<text transform="translate(665.00,695.60) scale(1,1.2)" font-size="9" text-anchor="middle" font-weight="bold" fill="#222" >20</text>
<text transform="translate(604.00,708.50)" font-size="12" text-anchor="middle" font-weight="bold" fill="#222" >Fold enrichment</text>
<text transform="translate(598.40,720.50)" font-size="10.8" text-anchor="middle" font-weight="bold" fill="#222" >(-log(q-value))</text>
<text transform="translate(25.00,607.70) scale(1,0.97)" font-size="9.1" text-anchor="start" font-weight="bold" fill="#000" >NB4</text>
<line x1="48.50" y1="625.20" x2="48.50" y2="712.20" stroke="#1a1a1a" stroke-width="1.1" />
<line x1="44.50" y1="712.20" x2="48.50" y2="712.20" stroke="#1a1a1a" stroke-width="1.0" />
<text transform="translate(43.50,715.50) scale(1,0.93)" font-size="9.8" text-anchor="end" font-weight="bold" fill="#000" >0.0</text>
<line x1="44.50" y1="694.80" x2="48.50" y2="694.80" stroke="#1a1a1a" stroke-width="1.0" />
<text transform="translate(43.50,698.10) scale(1,0.93)" font-size="9.8" text-anchor="end" font-weight="bold" fill="#000" >0.5</text>
<line x1="44.50" y1="677.40" x2="48.50" y2="677.40" stroke="#1a1a1a" stroke-width="1.0" />
<text transform="translate(43.50,680.70) scale(1,0.93)" font-size="9.8" text-anchor="end" font-weight="bold" fill="#000" >1.0</text>
<line x1="44.50" y1="660.00" x2="48.50" y2="660.00" stroke="#1a1a1a" stroke-width="1.0" />
<text transform="translate(43.50,663.30) scale(1,0.93)" font-size="9.8" text-anchor="end" font-weight="bold" fill="#000" >1.5</text>
<line x1="44.50" y1="642.60" x2="48.50" y2="642.60" stroke="#1a1a1a" stroke-width="1.0" />
<text transform="translate(43.50,645.90) scale(1,0.93)" font-size="9.8" text-anchor="end" font-weight="bold" fill="#000" >2.0</text>
<line x1="44.50" y1="625.20" x2="48.50" y2="625.20" stroke="#1a1a1a" stroke-width="1.0" />
<text transform="translate(43.50,628.50) scale(1,0.93)" font-size="9.8" text-anchor="end" font-weight="bold" fill="#000" >2.5</text>
<line x1="48.50" y1="712.20" x2="135.00" y2="712.20" stroke="#1a1a1a" stroke-width="1.1" />
<line x1="68.20" y1="712.20" x2="68.20" y2="715.70" stroke="#1a1a1a" stroke-width="1.0" />
<line x1="115.20" y1="712.20" x2="115.20" y2="715.70" stroke="#1a1a1a" stroke-width="1.0" />
<rect x="100.50" y="679.84" width="11.25" height="32.36" fill="#b1b1b5" />
<line x1="106.12" y1="677.40" x2="106.12" y2="679.84" stroke="#3c3c3c" stroke-width="1.1" />
<line x1="103.12" y1="677.40" x2="109.12" y2="677.40" stroke="#3c3c3c" stroke-width="1.1" />
<rect x="118.00" y="666.96" width="11.50" height="45.24" fill="#2c3590" />
<line x1="123.75" y1="665.57" x2="123.75" y2="666.96" stroke="#22243a" stroke-width="1.1" />
<line x1="120.75" y1="665.57" x2="126.75" y2="665.57" stroke="#22243a" stroke-width="1.1" />
<line x1="104.50" y1="658.90" x2="123.25" y2="658.90" stroke="#000" stroke-width="1.5" />
<path d="M111.08,650.75L111.08,654.85M109.30,651.77L112.85,653.82M112.85,651.77L109.30,653.82" stroke="#000" stroke-width="1.3" stroke-linecap="round" fill="none"/>
<path d="M116.67,650.75L116.67,654.85M114.90,651.77L118.45,653.82M118.45,651.77L114.90,653.82" stroke="#000" stroke-width="1.3" stroke-linecap="round" fill="none"/>
<text transform="translate(68.20,725.60)" font-size="9.2" text-anchor="middle" font-weight="bold" fill="#000" >Ctrl</text>
<text transform="translate(115.20,725.60)" font-size="9.2" text-anchor="middle" font-weight="bold" fill="#000" >ATRA</text>
<text transform="translate(14.60,660.30) rotate(-90) scale(1,0.86)" font-size="10" text-anchor="middle" font-weight="bold" fill="#000" >Relative expression of</text>
<text transform="translate(24.20,668.90) rotate(-90)" font-size="9.5" text-anchor="middle" font-weight="bold" fill="#000" >RARB</text>
<text transform="translate(171.70,608.50) scale(1,0.97)" font-size="9.1" text-anchor="start" font-weight="bold" fill="#000" >HL60</text>
<line x1="195.00" y1="622.15" x2="195.00" y2="709.40" stroke="#1a1a1a" stroke-width="1.1" />
<line x1="191.00" y1="709.40" x2="195.00" y2="709.40" stroke="#1a1a1a" stroke-width="1.0" />
<text transform="translate(190.00,712.70) scale(1,0.93)" font-size="9.8" text-anchor="end" font-weight="bold" fill="#000" >0.0</text>
<line x1="191.00" y1="691.95" x2="195.00" y2="691.95" stroke="#1a1a1a" stroke-width="1.0" />
<text transform="translate(190.00,695.25) scale(1,0.93)" font-size="9.8" text-anchor="end" font-weight="bold" fill="#000" >0.5</text>
<line x1="191.00" y1="674.50" x2="195.00" y2="674.50" stroke="#1a1a1a" stroke-width="1.0" />
<text transform="translate(190.00,677.80) scale(1,0.93)" font-size="9.8" text-anchor="end" font-weight="bold" fill="#000" >1.0</text>
<line x1="191.00" y1="657.05" x2="195.00" y2="657.05" stroke="#1a1a1a" stroke-width="1.0" />
<text transform="translate(190.00,660.35) scale(1,0.93)" font-size="9.8" text-anchor="end" font-weight="bold" fill="#000" >1.5</text>
<line x1="191.00" y1="639.60" x2="195.00" y2="639.60" stroke="#1a1a1a" stroke-width="1.0" />
<text transform="translate(190.00,642.90) scale(1,0.93)" font-size="9.8" text-anchor="end" font-weight="bold" fill="#000" >2.0</text>
<line x1="191.00" y1="622.15" x2="195.00" y2="622.15" stroke="#1a1a1a" stroke-width="1.0" />
<text transform="translate(190.00,625.45) scale(1,0.93)" font-size="9.8" text-anchor="end" font-weight="bold" fill="#000" >2.5</text>
<line x1="195.00" y1="709.40" x2="281.70" y2="709.40" stroke="#1a1a1a" stroke-width="1.1" />
<line x1="215.60" y1="709.40" x2="215.60" y2="712.90" stroke="#1a1a1a" stroke-width="1.0" />
<line x1="261.70" y1="709.40" x2="261.70" y2="712.90" stroke="#1a1a1a" stroke-width="1.0" />
<rect x="247.30" y="674.50" width="11.40" height="34.90" fill="#b1b1b5" />
<line x1="253.00" y1="674.15" x2="253.00" y2="674.50" stroke="#3c3c3c" stroke-width="1.1" />
<line x1="250.00" y1="674.15" x2="256.00" y2="674.15" stroke="#3c3c3c" stroke-width="1.1" />
<rect x="264.90" y="652.51" width="11.20" height="56.89" fill="#2c3590" />
<line x1="270.50" y1="646.58" x2="270.50" y2="652.51" stroke="#22243a" stroke-width="1.1" />
<line x1="267.50" y1="646.58" x2="273.50" y2="646.58" stroke="#22243a" stroke-width="1.1" />
<line x1="254.30" y1="638.70" x2="271.90" y2="638.70" stroke="#000" stroke-width="1.5" />
<path d="M257.50,630.55L257.50,634.65M255.72,631.58L259.28,633.62M259.28,631.58L255.72,633.62" stroke="#000" stroke-width="1.3" stroke-linecap="round" fill="none"/>
<path d="M263.10,630.55L263.10,634.65M261.32,631.58L264.88,633.62M264.88,631.58L261.32,633.62" stroke="#000" stroke-width="1.3" stroke-linecap="round" fill="none"/>
<path d="M268.70,630.55L268.70,634.65M266.92,631.58L270.48,633.62M270.48,631.58L266.92,633.62" stroke="#000" stroke-width="1.3" stroke-linecap="round" fill="none"/>
<text transform="translate(215.60,722.70)" font-size="9.2" text-anchor="middle" font-weight="bold" fill="#000" >DMSO</text>
<text transform="translate(261.70,722.70)" font-size="9.2" text-anchor="middle" font-weight="bold" fill="#000" >ATRA</text>
<text transform="translate(162.40,660.30) rotate(-90) scale(1,0.86)" font-size="10" text-anchor="middle" font-weight="bold" fill="#000" >Relative expression of</text>
<text transform="translate(172.00,668.90) rotate(-90)" font-size="9.5" text-anchor="middle" font-weight="bold" fill="#000" >RARB</text>
<rect x="287.20" y="605.00" width="10.20" height="8.60" fill="#b1b1b5" />
<rect x="287.20" y="619.20" width="10.20" height="8.50" fill="#2c3590" />
<text transform="translate(302.80,613.60) scale(1,1.1)" font-size="9.35" text-anchor="start" font-weight="bold" fill="#000" >MALNC-WT</text>
<text transform="translate(302.80,627.70) scale(1,1.1)" font-size="9.35" text-anchor="start" font-weight="bold" fill="#000" >MALNC-KO</text>
</svg>
</body></html>
